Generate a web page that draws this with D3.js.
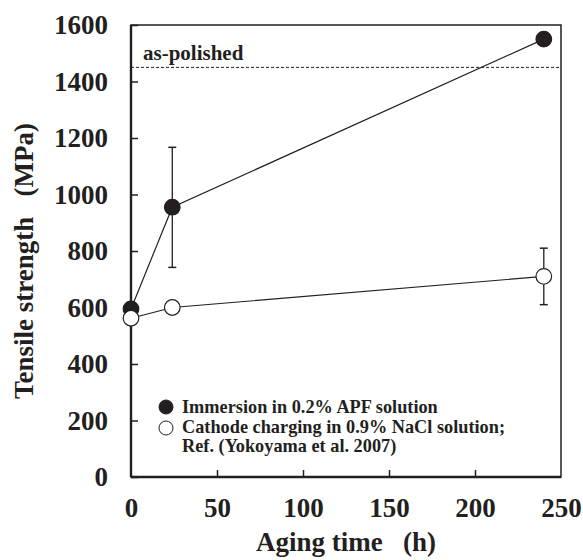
<!DOCTYPE html>
<html>
<head>
<meta charset="utf-8">
<script src="https://cdn.jsdelivr.net/npm/d3@7"></script>
<style>
  html, body { margin: 0; padding: 0; background: #fff; overflow: hidden; }
  svg { display: block; }
  text { font-family: "Liberation Serif", "Times New Roman", serif; font-weight: bold; fill: #231f20; }
</style>
</head>
<body>
<svg id="chart" width="583" height="560"></svg>
<script>
const hours = [0, 24, 240];
const apfValues = [595, 955, 1550];
const apfErrLow = [null, 742, null];
const apfErrHigh = [null, 1167, null];
const naclValues = [562, 600, 710];
const naclErrLow = [null, null, 610];
const naclErrHigh = [null, null, 810];
const asPolished = 1450;
const xTicks = [0, 50, 100, 150, 200, 250];
const yTicks = [0, 200, 400, 600, 800, 1000, 1200, 1400, 1600];

const svg = d3.select("#chart");
const margin = {top: 25, right: 22, bottom: 83, left: 131};
const width = +svg.attr("width");
const height = +svg.attr("height");
const innerWidth = width - margin.left - margin.right;
const innerHeight = height - margin.top - margin.bottom;
const ink = "#231f20";

const chart = svg.append("g")
    .attr("transform", "translate(" + margin.left + "," + margin.top + ")");

const x = d3.scaleLinear().domain([0, 250]).range([0, innerWidth]);
const y = d3.scaleLinear().domain([0, 1600]).range([innerHeight, 0]);

// frame
chart.append("rect")
    .attr("width", innerWidth).attr("height", innerHeight)
    .attr("fill", "none").attr("stroke", ink).attr("stroke-width", 1.5);
chart.append("line").attr("x1", 0).attr("x2", 0).attr("y1", 0).attr("y2", innerHeight)
    .attr("stroke", ink).attr("stroke-width", 2.4);
chart.append("line").attr("x1", 0).attr("x2", innerWidth).attr("y1", innerHeight).attr("y2", innerHeight)
    .attr("stroke", ink).attr("stroke-width", 2.4);

// y axis, ticks point inward
const yAxis = chart.append("g")
    .call(d3.axisLeft(y).tickValues(yTicks).tickFormat(d3.format("d")).tickSize(-7).tickPadding(23));
yAxis.select(".domain").remove();
yAxis.selectAll(".tick line").attr("stroke", ink).attr("stroke-width", 1.5);
yAxis.selectAll(".tick text").attr("font-size", 27).attr("fill", ink);

// x axis, ticks point inward
const xAxis = chart.append("g")
    .attr("transform", "translate(0," + innerHeight + ")")
    .call(d3.axisBottom(x).tickValues(xTicks).tickFormat(d3.format("d")).tickSize(-7).tickPadding(21));
xAxis.select(".domain").remove();
xAxis.selectAll(".tick line").attr("stroke", ink).attr("stroke-width", 1.5)
    .filter(d => d === 0 || d === 250).remove();
xAxis.selectAll(".tick text").attr("font-size", 27).attr("fill", ink);

// axis titles
svg.append("text")
    .attr("x", margin.left + innerWidth / 2).attr("y", 551)
    .attr("text-anchor", "middle").attr("font-size", 27)
    .attr("xml:space", "preserve")
    .text("Aging time   (h)");
svg.append("text")
    .attr("transform", "translate(33,261) rotate(-90)")
    .attr("text-anchor", "middle").attr("font-size", 27)
    .attr("xml:space", "preserve")
    .text("Tensile strength   (MPa)");

// as-polished reference line
chart.append("line")
    .attr("x1", 0).attr("x2", innerWidth)
    .attr("y1", y(asPolished)).attr("y2", y(asPolished))
    .attr("stroke", ink).attr("stroke-width", 1).attr("stroke-dasharray", "3,2");
chart.append("text")
    .attr("x", 12).attr("y", y(asPolished) - 7)
    .attr("font-size", 21).text("as-polished");

function addSeries(values, low, high, fill) {
    const pts = hours.map((h, i) => ({h: h, v: values[i], lo: low[i], hi: high[i]}));
    chart.append("path")
        .datum(pts)
        .attr("fill", "none").attr("stroke", ink).attr("stroke-width", 1.2)
        .attr("d", d3.line().x(d => x(d.h)).y(d => y(d.v)));
    const eb = chart.selectAll(null)
        .data(pts.filter(d => d.lo !== null))
        .enter().append("g");
    eb.append("line")
        .attr("x1", d => x(d.h)).attr("x2", d => x(d.h))
        .attr("y1", d => y(d.lo)).attr("y2", d => y(d.hi))
        .attr("stroke", ink).attr("stroke-width", 1.3);
    ["lo", "hi"].forEach(k => {
        eb.append("line")
            .attr("x1", d => x(d.h) - 4).attr("x2", d => x(d.h) + 4)
            .attr("y1", d => y(d[k])).attr("y2", d => y(d[k]))
            .attr("stroke", ink).attr("stroke-width", 1.5);
    });
    chart.selectAll(null)
        .data(pts)
        .enter().append("circle")
        .attr("cx", d => x(d.h)).attr("cy", d => y(d.v)).attr("r", 7.8)
        .attr("fill", fill).attr("stroke", ink).attr("stroke-width", 1.2);
}

addSeries(apfValues, apfErrLow, apfErrHigh, ink);
addSeries(naclValues, naclErrLow, naclErrHigh, "#fff");

// legend
const legend = chart.append("g").attr("transform", "translate(35,382)");
legend.append("circle").attr("cx", 0).attr("cy", 0).attr("r", 7)
    .attr("fill", ink).attr("stroke", ink);
legend.append("circle").attr("cx", 0).attr("cy", 21).attr("r", 7)
    .attr("fill", "#fff").attr("stroke", ink).attr("stroke-width", 1);
const legendLines = [
    "Immersion in 0.2% APF solution",
    "Cathode charging in 0.9% NaCl solution;",
    "Ref. (Yokoyama et al. 2007)"
];
legend.selectAll("text.leg")
    .data(legendLines)
    .enter().append("text")
    .attr("x", 16).attr("y", (d, i) => 6 + i * 19.5)
    .attr("font-size", 18.3)
    .text(d => d);
</script>
</body>
</html>
